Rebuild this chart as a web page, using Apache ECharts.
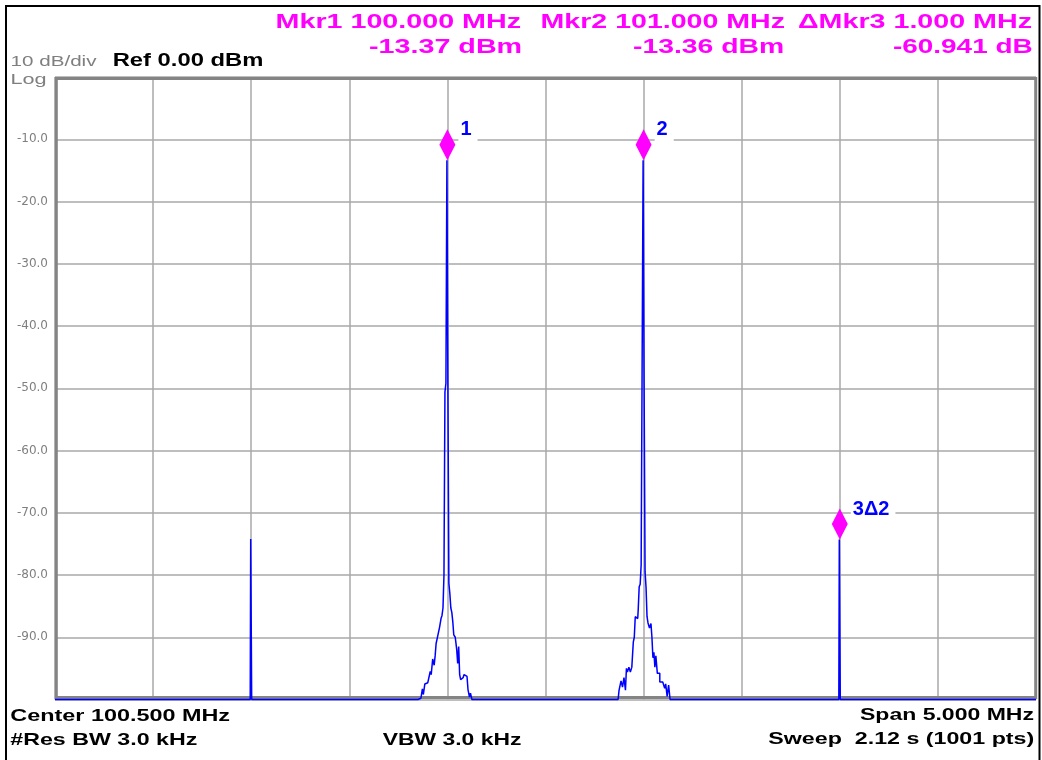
<!DOCTYPE html>
<html><head><meta charset="utf-8">
<script src="https://cdn.jsdelivr.net/npm/echarts@6/dist/echarts.min.js"></script>
<style>html,body{margin:0;padding:0;background:#fff}#c{width:1042px;height:760px}</style>
</head><body><div id="c"></div>
<script>
// ---------- data ----------
const startMHz = 98.0, stopMHz = 103.0, gridStepMHz = 0.5;
const topDbm = 0, bottomDbm = -100, dbPerDiv = 10;
const yTickValues = [-10, -20, -30, -40, -50, -60, -70, -80, -90];
const floorDbm = -100;
const binKHz = 5;
const spurFreqMHz = [99.000, 102.000];
const spurLevelDbm = [-74.2, -74.3];
const peak1CenterMHz = 100.000;
const peak1OffsetKHz = [-150,-140,-130,-125,-120,-110,-100,-90,-85,-80,-70,-65,-60,-55,-45,-35,-30,-25,-20,-15,-10,-5,0,5,10,15,20,25,30,35,45,50,55,60,65,70,80,90,100,110,115,120,130];
const peak1LevelDbm  = [-100,-99.8,-99.5,-98.3,-99.2,-97.5,-97.3,-97,-95.5,-96,-93.5,-94.5,-93,-91,-89.9,-88.4,-87,-86.5,-85.3,-80,-50.6,-49.2,-13.37,-49.5,-81.3,-83,-85.3,-86,-87.5,-89.6,-90,-92,-94.2,-91.5,-96,-96.8,-96.5,-96,-96.3,-98.4,-99.6,-99,-100];
const peak2CenterMHz = 101.000;
const peak2OffsetKHz = [-130,-120,-110,-105,-95,-90,-85,-80,-70,-65,-55,-50,-45,-40,-30,-25,-20,-15,-10,-5,0,5,10,15,20,25,35,40,45,50,55,60,65,75,90,105,110,115,125,130,140];
const peak2LevelDbm  = [-100,-98.5,-97,-98,-96.5,-98.5,-95,-95.6,-94.8,-95.6,-94.8,-90.8,-90,-86.7,-87,-85.6,-81.9,-81.5,-78.4,-78.6,-13.36,-49.2,-79.5,-82,-86.7,-87.7,-88.5,-87.8,-90,-93.3,-92.4,-94.8,-93,-95.8,-97.2,-97.4,-98.2,-97.5,-99.5,-97.7,-100];
const markerFreqMHz = [100.000, 101.000, 102.000];
const markerLevelDbm = [-13.37, -13.36, -74.30];
const markerNames = ['1', '2', '3Δ2'];
const markerTitles = ['Mkr1 100.000 MHz', 'Mkr2 101.000 MHz', 'ΔMkr3 1.000 MHz'];
const markerReadouts = ['-13.37 dBm', '-13.36 dBm', '-60.941 dB'];
const refText = 'Ref 0.00 dBm', scaleText = '10 dB/div', logText = 'Log';
const centerText = 'Center 100.500 MHz', rbwText = '#Res BW 3.0 kHz', vbwText = 'VBW 3.0 kHz';
const spanText = 'Span 5.000 MHz', sweepText = 'Sweep  2.12 s (1001 pts)';

// ---------- build trace ----------
const trace = [[startMHz, floorDbm], [stopMHz, floorDbm]];
spurFreqMHz.forEach((f, i) => {
  trace.push([f - binKHz / 1000, floorDbm], [f, spurLevelDbm[i]], [f + binKHz / 1000, floorDbm]);
});
peak1OffsetKHz.forEach((o, i) => trace.push([peak1CenterMHz + o / 1000, peak1LevelDbm[i]]));
peak2OffsetKHz.forEach((o, i) => trace.push([peak2CenterMHz + o / 1000, peak2LevelDbm[i]]));
trace.sort((a, b) => a[0] - b[0]);

// ---------- text helper (fits ink box) ----------
const mctx = document.createElement('canvas').getContext('2d');
function fitText(str, left, right, cy, size, weight, color) {
  const font = weight + ' ' + size + 'px "Liberation Sans"';
  mctx.font = font;
  const m = mctx.measureText(str);
  const ink = m.actualBoundingBoxLeft + m.actualBoundingBoxRight;
  const s = (right - left) / ink;
  return {
    type: 'text', x: left + m.actualBoundingBoxLeft * s, y: cy, scaleX: s, silent: true, z: 50,
    style: { text: str, font: font, fill: color, align: 'left', textAlign: 'left', verticalAlign: 'middle', textVerticalAlign: 'middle' }
  };
}
const MAG = '#ff00ff', BLK = '#000000', GRY = '#7f7f7f';
const texts = [
  fitText(markerTitles[0], 277, 521, 22.5, 20, 'bold', MAG),
  fitText(markerTitles[1], 542, 785, 22.5, 20, 'bold', MAG),
  fitText(markerTitles[2], 798, 1032, 22.5, 20, 'bold', MAG),
  fitText(markerReadouts[0], 369, 521, 47.5, 20, 'bold', MAG),
  fitText(markerReadouts[1], 633, 783, 47.5, 20, 'bold', MAG),
  fitText(markerReadouts[2], 893, 1032, 47.5, 20, 'bold', MAG),
  fitText(refText, 114, 262, 61.5, 18, 'bold', BLK),
  fitText(scaleText, 12, 96.5, 62, 14, 'normal', GRY),
  fitText(logText, 12, 46.5, 79.5, 14.5, 'normal', GRY),
  fitText(centerText, 10.3, 229.3, 716.5, 17, 'bold', BLK),
  fitText(rbwText, 10.3, 196.6, 740.5, 17, 'bold', BLK),
  fitText(vbwText, 382.8, 520.7, 740.5, 17, 'bold', BLK),
  fitText(spanText, 860, 1033.3, 715.5, 17, 'bold', BLK),
  fitText(sweepText, 768.3, 1033.3, 739.5, 17, 'bold', BLK)
];

const chart = echarts.init(document.getElementById('c'), null, { renderer: 'canvas' });
chart.setOption({
  animation: false,
  backgroundColor: '#ffffff',
  grid: { left: 55, right: 6, top: 77, bottom: 60.5, containLabel: false, outerBoundsMode: 'none' },
  xAxis: {
    type: 'value', min: startMHz, max: stopMHz, interval: gridStepMHz,
    axisLine: { show: false }, axisTick: { show: false }, axisLabel: { show: false },
    splitLine: { show: true, lineStyle: { color: '#a9a9a9', width: 1.5 } }
  },
  yAxis: {
    type: 'value', min: bottomDbm, max: topDbm, interval: dbPerDiv,
    axisLine: { show: false }, axisTick: { show: false },
    axisLabel: {
      show: true, margin: 7, color: '#7f7f7f', fontSize: 12, fontFamily: 'DejaVu Sans',
      formatter: v => yTickValues.includes(v) ? v.toFixed(1) : ''
    },
    splitLine: { show: true, lineStyle: { color: '#a9a9a9', width: 1.5 } }
  },
  series: [{
    type: 'line', data: trace, showSymbol: false, clip: false, z: 3, step: 'middle',
    lineStyle: { color: '#0000ff', width: 1.5 },
    markPoint: {
      symbol: 'diamond', symbolSize: [16, 31], symbolOffset: [0, -15.5],
      itemStyle: { color: '#ff00ff' },
      label: {
        show: true, formatter: '{b}', position: [19, 0.5], align: 'left', verticalAlign: 'middle',
        color: '#0000ff', fontSize: 20, fontWeight: 'bold', fontFamily: 'Liberation Sans',
        backgroundColor: '#ffffff', padding: [3, 6, 3, 2]
      },
      data: markerFreqMHz.map((f, i) => ({ name: markerNames[i], coord: [f, markerLevelDbm[i]] }))
    }
  }],
  graphic: [
    { type: 'rect', silent: true, z: 1, shape: { x: 56.3, y: 78.5, width: 979.4, height: 619 },
      style: { fill: null, stroke: '#848484', lineWidth: 3 } },
    { type: 'rect', silent: true, z: 60, shape: { x: 6, y: 6, width: 1033.5, height: 800 },
      style: { fill: null, stroke: '#000000', lineWidth: 2 } }
  ].concat(texts)
});
</script></body></html>
